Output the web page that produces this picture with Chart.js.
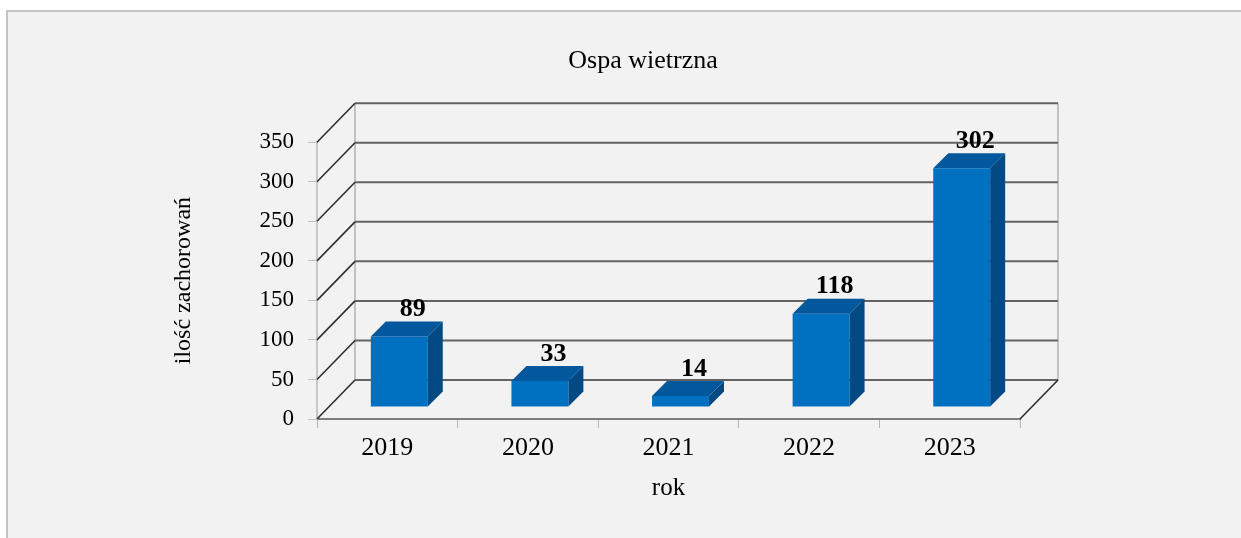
<!DOCTYPE html>
<html>
<head>
<meta charset="utf-8">
<script src="https://cdn.jsdelivr.net/npm/chart.js@4/dist/chart.umd.min.js"></script>
<style>
  body { margin: 0; background: #fff; }
  canvas { display: block; }
</style>
</head>
<body>
<canvas id="chart" width="1241" height="538"></canvas>
<script>
var years = ['2019', '2020', '2021', '2022', '2023'];
var cases = [89, 33, 14, 118, 302];
var yMax = 350;
var yStep = 50;

var serif = '"Liberation Serif", "Times New Roman", serif';

// fake 3d: how deep the box is, where the bars sit inside it
var depthX = 38, depthY = -39;
var barShift = 12, barDepth = 15;

var frame3d = {
  id: 'frame3d',
  beforeDraw: function (chart) {
    var ctx = chart.ctx;
    ctx.save();
    ctx.fillStyle = '#fff';
    ctx.fillRect(0, 0, chart.width, chart.height);
    ctx.fillStyle = '#f2f2f2';
    ctx.fillRect(8, 12, chart.width - 8, chart.height - 12);
    ctx.strokeStyle = '#c4c4c4';
    ctx.lineWidth = 2;
    ctx.beginPath();
    ctx.moveTo(7, chart.height);
    ctx.lineTo(7, 11);
    ctx.lineTo(chart.width, 11);
    ctx.stroke();
    ctx.restore();
  },
  beforeDatasetsDraw: function (chart) {
    var ctx = chart.ctx, a = chart.chartArea, y = chart.scales.y;
    ctx.save();
    // back wall side edges
    ctx.strokeStyle = '#c2c2c2';
    ctx.lineWidth = 2;
    ctx.beginPath();
    ctx.moveTo(a.left + depthX, a.top + depthY);
    ctx.lineTo(a.left + depthX, a.bottom + depthY);
    ctx.moveTo(a.right + depthX, a.top + depthY);
    ctx.lineTo(a.right + depthX, a.bottom + depthY);
    ctx.stroke();
    y.ticks.forEach(function (t) {
      var py = y.getPixelForValue(t.value);
      ctx.strokeStyle = '#636363';
      ctx.lineWidth = 2;
      ctx.beginPath();
      ctx.moveTo(a.left + depthX, py + depthY);
      ctx.lineTo(a.right + depthX, py + depthY);
      ctx.stroke();
      ctx.strokeStyle = '#2e2e2e';
      ctx.lineWidth = 1.6;
      ctx.beginPath();
      ctx.moveTo(a.left, py);
      ctx.lineTo(a.left + depthX, py + depthY);
      ctx.stroke();
    });
    // right edge of the floor
    ctx.beginPath();
    ctx.moveTo(a.right, a.bottom);
    ctx.lineTo(a.right + depthX, a.bottom + depthY);
    ctx.stroke();
    ctx.restore();

    // front faces of the bars sit a bit inside the box
    ctx.save();
    ctx.translate(barShift, -barShift);
  },
  afterDatasetsDraw: function (chart) {
    var ctx = chart.ctx;
    ctx.restore();
    var meta = chart.getDatasetMeta(0);
    ctx.save();
    meta.data.forEach(function (bar, i) {
      var p = bar.getProps(['x', 'y', 'base', 'width'], true);
      var l = p.x - p.width / 2 + barShift, r = p.x + p.width / 2 + barShift;
      var t = p.y - barShift, b = p.base - barShift;
      // top
      ctx.fillStyle = '#03579c';
      ctx.beginPath();
      ctx.moveTo(l, t);
      ctx.lineTo(r, t);
      ctx.lineTo(r + barDepth, t - barDepth);
      ctx.lineTo(l + barDepth, t - barDepth);
      ctx.closePath();
      ctx.fill();
      // side
      ctx.fillStyle = '#034a84';
      ctx.beginPath();
      ctx.moveTo(r, t);
      ctx.lineTo(r + barDepth, t - barDepth);
      ctx.lineTo(r + barDepth, b - barDepth);
      ctx.lineTo(r, b);
      ctx.closePath();
      ctx.fill();
      // value label
      ctx.fillStyle = '#000';
      ctx.font = 'bold 26px ' + serif;
      ctx.textAlign = 'center';
      ctx.textBaseline = 'middle';
      ctx.fillText(String(cases[i]), p.x + barShift + barDepth / 2 + 6, t - barDepth - 12);
    });
    ctx.restore();
  }
};

new Chart(document.getElementById('chart'), {
  type: 'bar',
  data: {
    labels: years,
    datasets: [{
      data: cases,
      backgroundColor: '#0070c0',
      borderWidth: 0,
      categoryPercentage: 1,
      barPercentage: 0.405
    }]
  },
  options: {
    responsive: false,
    animation: false,
    layout: { padding: { left: 45, right: 0, top: 0, bottom: 0 } },
    plugins: {
      legend: { display: false },
      tooltip: { enabled: false },
      title: {
        display: true,
        text: 'Ospa wietrzna',
        color: '#000',
        font: { family: serif, size: 26, weight: 'normal' },
        padding: { top: 46, bottom: 65 }
      }
    },
    scales: {
      x: {
        grid: { drawOnChartArea: false, tickLength: 9, color: '#b5b5b5', offset: true },
        border: { color: '#7e7e7e', width: 2 },
        ticks: { color: '#000', font: { family: serif, size: 26 }, padding: 5 },
        title: {
          display: true, text: 'rok', color: '#000',
          font: { family: serif, size: 25 },
          padding: { top: 0, bottom: 35 }
        },
        afterFit: function (s) { s.height = 119; }
      },
      y: {
        min: 0,
        max: yMax,
        ticks: { stepSize: yStep, color: '#000', font: { family: serif, size: 23 }, padding: 14 },
        grid: { drawOnChartArea: false, tickLength: 9, color: '#c0c0c0' },
        border: { color: '#c8c8c8', width: 2 },
        title: {
          display: true, text: 'ilość zachorowań', color: '#000',
          font: { family: serif, size: 24 },
          padding: { top: 124, bottom: 0 }
        },
        afterFit: function (s) { s.width = 272; }
      },
      // empty axis, only keeps the space right of the box
      side: {
        type: 'linear',
        position: 'right',
        grid: { display: false },
        ticks: { display: false },
        border: { display: false },
        afterFit: function (s) { s.width = 221; }
      }
    }
  },
  plugins: [frame3d]
});
</script>
</body>
</html>
